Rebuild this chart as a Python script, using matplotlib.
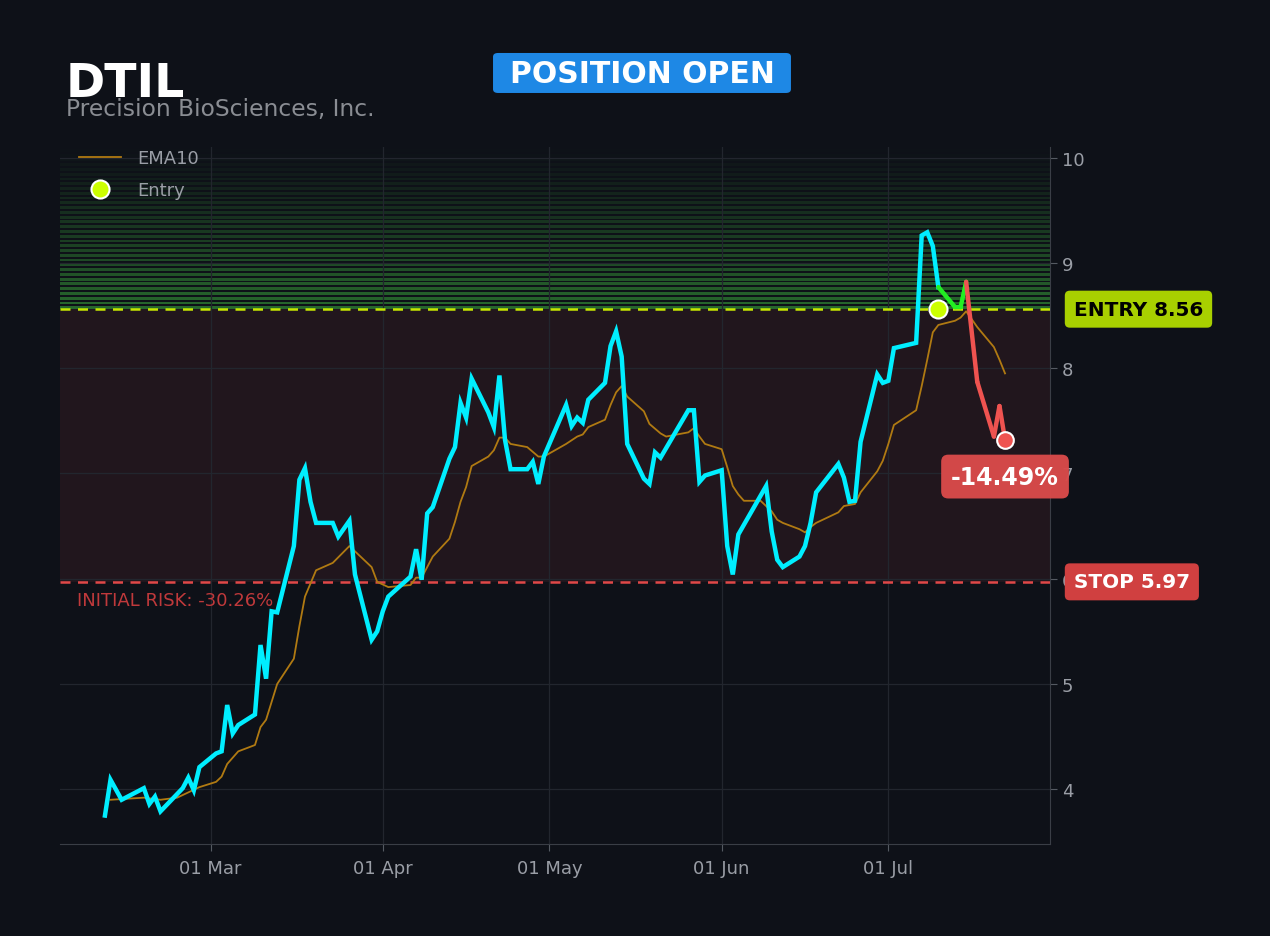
import numpy as np
import pandas as pd
import matplotlib
matplotlib.use("Agg")
import matplotlib.pyplot as plt
import matplotlib.dates as mdates
from matplotlib.patches import FancyBboxPatch
from matplotlib.transforms import blended_transform_factory

# price path (close)
price_dates = [
    "2025-02-10", "2025-02-11", "2025-02-13", "2025-02-17", "2025-02-18", "2025-02-19", "2025-02-20",
    "2025-02-24", "2025-02-25", "2025-02-26", "2025-02-27", "2025-03-02", "2025-03-03", "2025-03-04",
    "2025-03-05", "2025-03-06", "2025-03-09", "2025-03-10", "2025-03-11", "2025-03-12", "2025-03-13",
    "2025-03-16", "2025-03-17", "2025-03-18", "2025-03-19", "2025-03-20", "2025-03-23", "2025-03-24",
    "2025-03-26", "2025-03-27", "2025-03-30", "2025-03-31", "2025-04-01", "2025-04-02", "2025-04-06",
    "2025-04-07", "2025-04-08", "2025-04-09", "2025-04-10", "2025-04-13", "2025-04-14", "2025-04-15",
    "2025-04-16", "2025-04-17", "2025-04-20", "2025-04-21", "2025-04-22", "2025-04-23", "2025-04-24",
    "2025-04-27", "2025-04-28", "2025-04-29", "2025-04-30", "2025-05-04", "2025-05-05", "2025-05-06",
    "2025-05-07", "2025-05-08", "2025-05-11", "2025-05-12", "2025-05-13", "2025-05-14", "2025-05-15",
    "2025-05-18", "2025-05-19", "2025-05-20", "2025-05-21", "2025-05-26", "2025-05-27", "2025-05-28",
    "2025-05-29", "2025-06-01", "2025-06-02", "2025-06-03", "2025-06-04", "2025-06-09", "2025-06-10",
    "2025-06-11", "2025-06-12", "2025-06-15", "2025-06-16", "2025-06-17", "2025-06-18", "2025-06-22",
    "2025-06-23", "2025-06-24", "2025-06-25", "2025-06-26", "2025-06-29", "2025-06-30", "2025-07-01",
    "2025-07-02", "2025-07-06", "2025-07-07", "2025-07-08", "2025-07-09", "2025-07-10", "2025-07-13",
    "2025-07-14", "2025-07-15", "2025-07-17", "2025-07-20", "2025-07-21", "2025-07-22",
]
price = [
    3.75, 4.09, 3.90, 4.01, 3.86, 3.93, 3.79,
    4.01, 4.11, 3.99, 4.21, 4.34, 4.36, 4.80,
    4.53, 4.61, 4.71, 5.37, 5.05, 5.69, 5.68,
    6.31, 6.94, 7.05, 6.73, 6.53, 6.53, 6.40,
    6.55, 6.04, 5.42, 5.50, 5.69, 5.83, 6.02,
    6.28, 5.99, 6.62, 6.68, 7.14, 7.25, 7.67,
    7.53, 7.90, 7.58, 7.44, 7.93, 7.32, 7.04,
    7.04, 7.11, 6.90, 7.16, 7.65, 7.45, 7.53,
    7.48, 7.70, 7.86, 8.21, 8.35, 8.11, 7.28,
    6.95, 6.90, 7.20, 7.15, 7.60, 7.60, 6.92,
    6.98, 7.03, 6.31, 6.04, 6.42, 6.88, 6.45,
    6.18, 6.11, 6.21, 6.31, 6.53, 6.82, 7.09,
    6.96, 6.73, 6.74, 7.30, 7.94, 7.86, 7.88,
    8.19, 8.24, 9.26, 9.29, 9.16, 8.77, 8.58,
    8.58, 8.82, 7.87, 7.35, 7.64, 7.32,
]

ema_dates = [
    "2025-02-11", "2025-02-17", "2025-02-20", "2025-02-23", "2025-02-25", "2025-02-27", "2025-03-02",
    "2025-03-03", "2025-03-04", "2025-03-06", "2025-03-09", "2025-03-10", "2025-03-11", "2025-03-13",
    "2025-03-16", "2025-03-17", "2025-03-18", "2025-03-20", "2025-03-23", "2025-03-26", "2025-03-27",
    "2025-03-30", "2025-03-31", "2025-04-02", "2025-04-06", "2025-04-07", "2025-04-08", "2025-04-10",
    "2025-04-13", "2025-04-14", "2025-04-15", "2025-04-16", "2025-04-17", "2025-04-20", "2025-04-21",
    "2025-04-22", "2025-04-23", "2025-04-24", "2025-04-27", "2025-04-29", "2025-04-30", "2025-05-04",
    "2025-05-06", "2025-05-07", "2025-05-08", "2025-05-11", "2025-05-12", "2025-05-13", "2025-05-14",
    "2025-05-15", "2025-05-18", "2025-05-19", "2025-05-21", "2025-05-22", "2025-05-24", "2025-05-26",
    "2025-05-27", "2025-05-28", "2025-05-29", "2025-06-01", "2025-06-02", "2025-06-03", "2025-06-04",
    "2025-06-05", "2025-06-08", "2025-06-10", "2025-06-11", "2025-06-12", "2025-06-15", "2025-06-16",
    "2025-06-17", "2025-06-18", "2025-06-22", "2025-06-23", "2025-06-25", "2025-06-26", "2025-06-29",
    "2025-06-30", "2025-07-01", "2025-07-02", "2025-07-06", "2025-07-07", "2025-07-08", "2025-07-09",
    "2025-07-10", "2025-07-13", "2025-07-14", "2025-07-15", "2025-07-17", "2025-07-20", "2025-07-21",
    "2025-07-22",
]
ema10 = [
    3.90, 3.92, 3.90, 3.92, 3.97, 4.02, 4.07,
    4.12, 4.24, 4.36, 4.42, 4.59, 4.66, 5.00,
    5.24, 5.55, 5.83, 6.08, 6.15, 6.31, 6.26,
    6.11, 5.97, 5.92, 5.94, 6.01, 6.01, 6.21,
    6.38, 6.54, 6.73, 6.87, 7.07, 7.16, 7.22,
    7.34, 7.34, 7.28, 7.25, 7.16, 7.16, 7.28,
    7.35, 7.37, 7.44, 7.51, 7.65, 7.77, 7.83,
    7.73, 7.59, 7.47, 7.38, 7.35, 7.37, 7.39,
    7.43, 7.35, 7.28, 7.23, 7.06, 6.88, 6.80,
    6.74, 6.74, 6.64, 6.56, 6.53, 6.47, 6.44,
    6.49, 6.53, 6.63, 6.69, 6.71, 6.82, 7.02,
    7.12, 7.28, 7.46, 7.60, 7.83, 8.08, 8.34,
    8.41, 8.45, 8.48, 8.54, 8.39, 8.20, 8.08,
    7.95,
]

ticker = "DTIL"
company = "Precision BioSciences, Inc."
entry_date = "2025-07-10"
entry_price = 8.56
stop_price = 5.97
pnl_pct = -14.49
risk_pct = -30.26

BG = "#0e1118"
CYAN = "#00eeff"
GREEN = "#22ee22"
RED = "#ef5350"
TXT = "#9a9ea6"

px = pd.to_datetime(price_dates)
ex = pd.to_datetime(ema_dates)
pr = np.array(price)
ent = pd.Timestamp(entry_date)

fig = plt.figure(figsize=(12.7, 9.37), dpi=100, facecolor=BG)
ax = fig.add_axes([0.0472, 0.0982, 0.7796, 0.7438])
ax.set_facecolor(BG)

# zones
ax.axhspan(stop_price, entry_price, color="#21161d", zorder=0, lw=0)
nb = 34
edges = np.linspace(entry_price, 10.1, nb + 1)
for i in range(nb):
    a = 0.8 * (1 - i / nb) ** 1.2
    h = edges[i + 1] - edges[i]
    ax.axhspan(edges[i], edges[i] + 0.6 * h, color="#2e7d32", alpha=a, lw=0, zorder=0)

ax.axhline(entry_price, color="#c6e600", ls=(0, (4, 3)), lw=1.8, zorder=3)
ax.axhline(stop_price, color="#e04848", ls=(0, (4, 3)), lw=1.8, zorder=3)

ax.grid(True, color="#22262e", lw=0.9, zorder=1)

ax.plot(ex, ema10, color="#b07a12", lw=1.3, zorder=4, label="EMA10")

pre = px <= ent
ax.plot(px[pre], pr[pre], color=CYAN, lw=3.2, zorder=5, solid_joinstyle="miter")
idx = np.where(pre)[0][-1]
for i in range(idx, len(pr) - 1):
    c = GREEN if pr[i + 1] >= entry_price else RED
    ax.plot(px[i:i + 2], pr[i:i + 2], color=c, lw=3.2, zorder=5, solid_capstyle="round")

ax.plot([ent], [entry_price], "o", ms=13, mfc="#ccff00", mec="white", mew=1.5, zorder=7,
        ls="none", label="Entry")
ax.plot([px[-1]], [pr[-1]], "o", ms=12, mfc=RED, mec="white", mew=1.5, zorder=7)

ax.set_ylim(3.48, 10.1)
ax.set_xlim(px[0] - pd.Timedelta(days=8.1), px[-1] + pd.Timedelta(days=8.1))
ax.yaxis.tick_right()
ax.set_yticks([4, 5, 6, 7, 8, 9, 10])
ax.xaxis.set_major_locator(mdates.MonthLocator())
ax.xaxis.set_major_formatter(mdates.DateFormatter("%d %b"))
ax.tick_params(colors=TXT, labelsize=13, length=5, color="#555a62")
ax.tick_params(axis="x", pad=6)
for s in ["left", "top"]:
    ax.spines[s].set_visible(False)
for s in ["right", "bottom"]:
    ax.spines[s].set_color("#3a3e46")

trans = blended_transform_factory(ax.transAxes, ax.transData)
ax.text(1.024, entry_price, f"ENTRY {entry_price:.2f}", transform=trans, ha="left", va="center",
        fontsize=14.4, fontweight="bold", color="black", zorder=10,
        bbox=dict(boxstyle="round,pad=0.45,rounding_size=0.25", fc="#a8d000", ec="none"))
ax.text(1.024, stop_price, f"STOP {stop_price:.2f}", transform=trans, ha="left", va="center",
        fontsize=14.4, fontweight="bold", color="white", zorder=10,
        bbox=dict(boxstyle="round,pad=0.45,rounding_size=0.25", fc="#d04040", ec="none"))
ax.text(px[-1], pr[-1] - 0.35, f"{pnl_pct:.2f}%", ha="center", va="center", fontsize=17,
        fontweight="bold", color="white", zorder=10, clip_on=False,
        bbox=dict(boxstyle="round,pad=0.42,rounding_size=0.3", fc="#d94a4a", ec="none", alpha=0.97))
ax.text(0.017, stop_price - 0.17, f"INITIAL RISK: {risk_pct:.2f}%", transform=trans,
        ha="left", va="center", fontsize=13, color="#c0393b", zorder=10)

leg = ax.legend(loc="upper left", bbox_to_anchor=(0.012, 1.007), frameon=False, fontsize=13,
                labelcolor=TXT, borderaxespad=0.0, handlelength=2.3, handletextpad=0.9,
                labelspacing=0.75)

fig.text(0.052, 0.897, ticker, fontsize=34, fontweight="bold", color="white", va="baseline")
fig.text(0.052, 0.876, company, fontsize=16.8, color="#8a8d93", va="baseline")
badge = FancyBboxPatch((0.3882, 0.8997), 0.2346, 0.0427, transform=fig.transFigure,
                       boxstyle="round,pad=0,rounding_size=0.004", fc="#1e88e5", ec="none")
fig.patches.append(badge)
fig.text(0.5055, 0.9205, "POSITION OPEN", fontsize=21.5, fontweight="bold", color="white",
         ha="center", va="center")

fig.savefig("out.png", dpi=100, facecolor=BG)
